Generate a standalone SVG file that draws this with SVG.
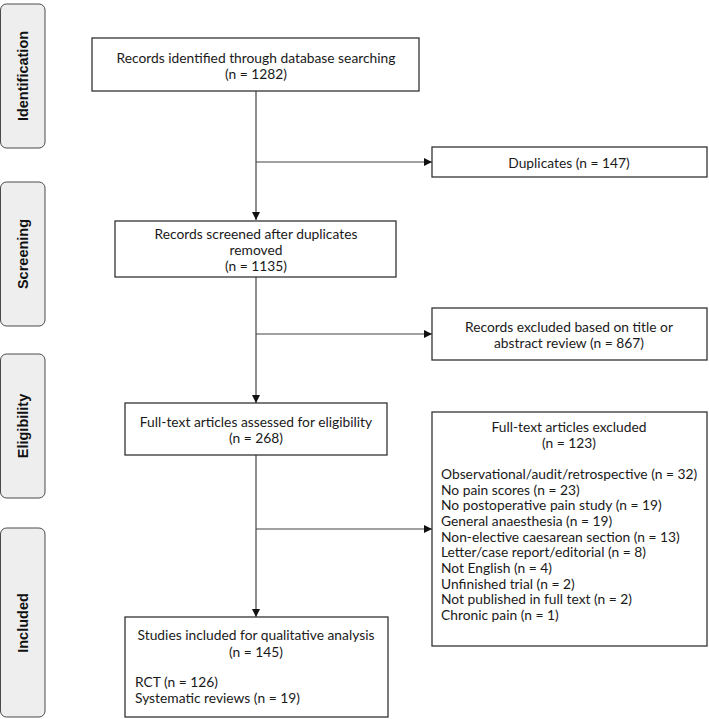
<svg xmlns="http://www.w3.org/2000/svg" width="709" height="719" viewBox="0 0 709 719">
<style>
.bg{fill:#ffffff}
.phase{fill:#eeeeee;stroke:#4a4a4a;stroke-width:1}
.ph{font-family:"Liberation Sans",Arial,sans-serif;font-weight:bold;font-size:14.5px;fill:#111;text-anchor:middle;dominant-baseline:central}
.box{fill:#ffffff;stroke:#333333;stroke-width:1.3}
.t{font-family:Lato,"Noto Sans",sans-serif;font-size:13.8px;fill:#1a1a1a;dominant-baseline:central}
.c{text-anchor:middle}
.ln{stroke:#444444;stroke-width:1.2;fill:none}
</style>
<defs>
<marker id="arr" viewBox="0 0 10 10" refX="10" refY="5" markerWidth="8" markerHeight="8" markerUnits="userSpaceOnUse" orient="auto">
<path d="M0,0 L10,5 L0,10 Z" fill="#111"/>
</marker>
</defs>
<rect class="bg" x="0" y="0" width="709" height="719"/>

<g id="phase-identification"><rect class="phase" x="0.5" y="4" width="44.5" height="144" rx="6"/><text class="ph" transform="translate(23,76) rotate(-90)">Identification</text></g>
<g id="phase-screening"><rect class="phase" x="0.5" y="182" width="44.5" height="144" rx="6"/><text class="ph" transform="translate(23,254) rotate(-90)">Screening</text></g>
<g id="phase-eligibility"><rect class="phase" x="0.5" y="354" width="44.5" height="144" rx="6"/><text class="ph" transform="translate(23,426) rotate(-90)">Eligibility</text></g>
<g id="phase-included"><rect class="phase" x="0.5" y="528" width="44.5" height="189" rx="6"/><text class="ph" transform="translate(23,623) rotate(-90)">Included</text></g>

<g id="connectors">
<line class="ln" x1="256" y1="91" x2="256" y2="220" marker-end="url(#arr)"/>
<line class="ln" x1="256" y1="162" x2="432" y2="162" marker-end="url(#arr)"/>
<line class="ln" x1="256" y1="277" x2="256" y2="403" marker-end="url(#arr)"/>
<line class="ln" x1="256" y1="334" x2="432" y2="334" marker-end="url(#arr)"/>
<line class="ln" x1="256" y1="455" x2="256" y2="617" marker-end="url(#arr)"/>
<line class="ln" x1="256" y1="529" x2="432" y2="529" marker-end="url(#arr)"/>
</g>

<g id="identified"><rect class="box" x="92" y="38" width="327" height="53"/>
<text class="t c" x="256" y="57">Records identified through database searching</text>
<text class="t c" x="256" y="73">(n = 1282)</text></g>

<g id="duplicates"><rect class="box" x="432" y="147" width="275" height="30"/>
<text class="t c" x="569" y="162">Duplicates (n = 147)</text></g>

<g id="screened"><rect class="box" x="115" y="221" width="281" height="56"/>
<text class="t c" x="256" y="233">Records screened after duplicates</text>
<text class="t c" x="256" y="249">removed</text>
<text class="t c" x="256" y="265">(n = 1135)</text></g>

<g id="excluded-title"><rect class="box" x="432" y="308" width="275" height="52"/>
<text class="t c" x="569" y="326">Records excluded based on title or</text>
<text class="t c" x="569" y="342">abstract review (n = 867)</text></g>

<g id="assessed"><rect class="box" x="125" y="403" width="262" height="52"/>
<text class="t c" x="256" y="421">Full-text articles assessed for eligibility</text>
<text class="t c" x="256" y="437">(n = 268)</text></g>

<g id="excluded-fulltext"><rect class="box" x="432" y="412" width="275" height="234"/>
<text class="t c" x="569" y="426">Full-text articles excluded</text>
<text class="t c" x="569" y="442">(n = 123)</text>
<text class="t" x="441" y="473">Observational/audit/retrospective (n = 32)</text>
<text class="t" x="441" y="489">No pain scores (n = 23)</text>
<text class="t" x="441" y="504.5">No postoperative pain study (n = 19)</text>
<text class="t" x="441" y="520">General anaesthesia (n = 19)</text>
<text class="t" x="441" y="536">Non-elective caesarean section (n = 13)</text>
<text class="t" x="441" y="551.5">Letter/case report/editorial (n = 8)</text>
<text class="t" x="441" y="567">Not English (n = 4)</text>
<text class="t" x="441" y="583">Unfinished trial (n = 2)</text>
<text class="t" x="441" y="598.5">Not published in full text (n = 2)</text>
<text class="t" x="441" y="614">Chronic pain (n = 1)</text></g>

<g id="included"><rect class="box" x="125" y="617" width="263" height="100"/>
<text class="t c" x="256" y="634">Studies included for qualitative analysis</text>
<text class="t c" x="256" y="651">(n = 145)</text>
<text class="t" x="135" y="681">RCT (n = 126)</text>
<text class="t" x="135" y="697">Systematic reviews (n = 19)</text></g>
</svg>
